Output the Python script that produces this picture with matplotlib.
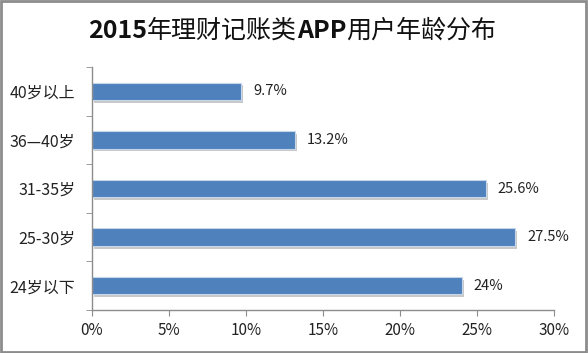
import matplotlib
matplotlib.use("Agg")
import matplotlib.pyplot as plt
import matplotlib.patheffects as pe
from matplotlib.patches import Rectangle
from matplotlib.ticker import FixedLocator, MultipleLocator, PercentFormatter
from matplotlib.transforms import offset_copy

plt.rcParams['font.family'] = ['Noto Sans CJK SC', 'DejaVu Sans']

title_parts = [("2015", "bold"), ("年理财记账类", "normal"), ("APP", "bold"), ("用户年龄分布", "normal")]
categories = ["40岁以上", "36—40岁", "31-35岁", "25-30岁", "24岁以下"]
values = [9.7, 13.2, 25.6, 27.5, 24.0]
value_labels = ["9.7%", "13.2%", "25.6%", "27.5%", "24%"]

fig = plt.figure(figsize=(5.88, 3.53), dpi=100)
fig.patch.set_facecolor("white")
fig.patches.append(Rectangle((0.002, 0.003), 0.994, 0.993, transform=fig.transFigure,
                             fill=False, edgecolor="#8c8c8c", linewidth=2))

ax = fig.add_axes([0.1565, 0.122, 0.7855, 0.688])
ypos = list(range(len(categories)))
bars = ax.barh(ypos, values, height=0.36, color="#4F81BD", edgecolor="#c6d6ea", linewidth=0.8)
for b in bars:
    b.set_path_effects([pe.SimplePatchShadow(offset=(1.5, -2), shadow_rgbFace="#888888", alpha=0.45), pe.Normal()])

for y, v, lab in zip(ypos, values, value_labels):
    ax.text(v + 0.75, y, lab, va="center", ha="left", fontsize=10.5, color="#222222")

ax.set_xlim(0, 30)
ax.set_ylim(len(categories) - 0.5, -0.5)
ax.xaxis.set_major_locator(MultipleLocator(5))
ax.xaxis.set_major_formatter(PercentFormatter(decimals=0))
ax.set_yticks(ypos)
ax.set_yticklabels(categories)
ax.yaxis.set_minor_locator(FixedLocator([i - 0.5 for i in range(len(categories) + 1)]))
ax.tick_params(axis="y", which="major", length=0, pad=12, labelsize=11.5, labelcolor="#222222")
ax.tick_params(axis="y", which="minor", length=4, color="#8c8c8c", direction="out")
ax.tick_params(axis="x", length=4, color="#8c8c8c", direction="out", labelsize=11, labelcolor="#222222", pad=5)

for s in ["top", "right"]:
    ax.spines[s].set_visible(False)
for s in ["left", "bottom"]:
    ax.spines[s].set_color("#8c8c8c")
    ax.spines[s].set_linewidth(1)

# Title with mixed weights, laid out piece by piece and centred
renderer = fig.canvas.get_renderer()
texts = []
widths = []
for s, w in title_parts:
    t = fig.text(0, 0.912, s, ha="left", va="center", fontsize=18, fontweight=w, color="#111111")
    widths.append(t.get_window_extent(renderer).width)
    texts.append(t)
total = sum(widths)
fig_w = fig.bbox.width
x = 292 - total / 2
for t, w in zip(texts, widths):
    t.set_x(x / fig_w)
    x += w

fig.savefig("out.png", dpi=100)
